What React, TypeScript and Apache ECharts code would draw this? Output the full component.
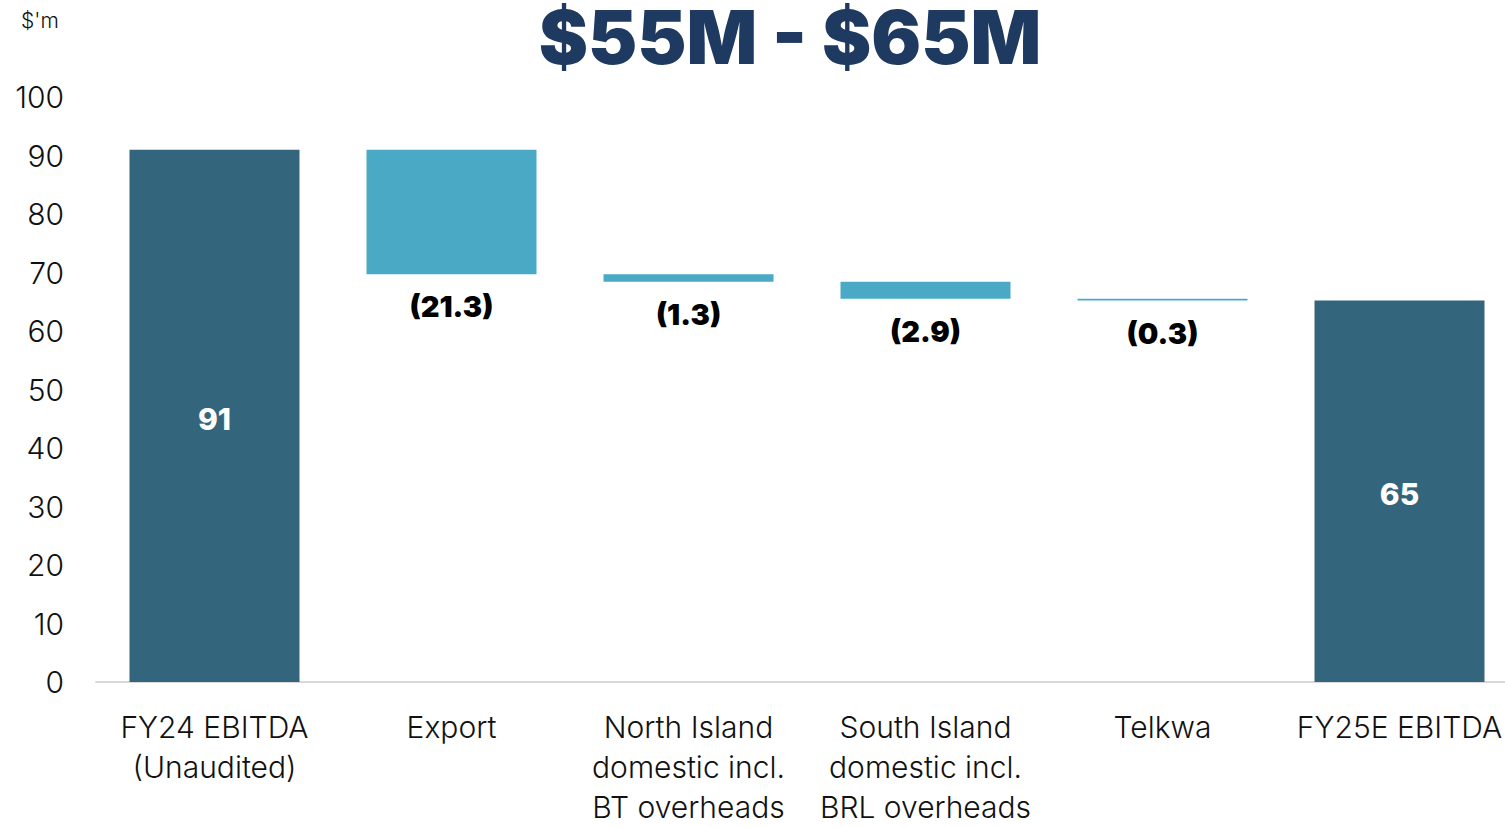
import React, { useEffect, useRef } from "react";
import * as echarts from "echarts";

const categories = [
  "FY24 EBITDA\n(Unaudited)",
  "Export",
  "North Island\ndomestic incl.\nBT overheads",
  "South Island\ndomestic incl.\nBRL overheads",
  "Telkwa",
  "FY25E EBITDA",
];
const startValue = 91;
const changes = [-21.3, -1.3, -2.9, -0.3];
const endLabel = 65;
const yTicks = { min: 0, max: 100, interval: 10 };
const titleText = "$55M - $65M";
const unitText = "$'m";

const DARK = "#33657d";
const LIGHT = "#4aaac6";

export default function App() {
  const ref = useRef<HTMLDivElement>(null);
  useEffect(() => {
    if (!ref.current) return;
    const chart = echarts.init(ref.current, undefined, { renderer: "svg" });

    const base: (number | string)[] = [];
    const totals: (number | string)[] = [];
    const deltas: (number | string)[] = [];
    let running = startValue;
    base.push("-");
    totals.push(startValue);
    deltas.push("-");
    changes.forEach((c) => {
      const next = +(running + c).toFixed(1);
      base.push(Math.min(running, next));
      deltas.push(Math.abs(c));
      totals.push("-");
      running = next;
    });
    base.push("-");
    totals.push(running);
    deltas.push("-");

    chart.setOption({
      animation: false,
      title: [
        {
          text: titleText,
          left: 785,
          textAlign: "center",
          top: -5,
          textStyle: {
            fontFamily: "Inter",
            fontWeight: 900,
            fontSize: 74,
            color: "#1f3a60",
          },
        },
        {
          text: unitText,
          left: 16,
          top: 5,
          textStyle: {
            fontFamily: "Inter",
            fontWeight: 300,
            fontSize: 21,
            color: "#111",
          },
        },
      ],
      grid: { left: 96, right: 0, top: 97, bottom: 141, containLabel: false },
      xAxis: {
        type: "category",
        data: categories,
        axisLine: { show: true, lineStyle: { color: "#d9d9d9", width: 2 } },
        axisTick: { show: false },
        axisLabel: {
          interval: 0,
          margin: 25,
          fontFamily: "Inter",
          fontWeight: 300,
          fontSize: 30,
          lineHeight: 40,
          color: "#111",
        },
      },
      yAxis: {
        type: "value",
        min: yTicks.min,
        max: yTicks.max,
        interval: yTicks.interval,
        axisLine: { show: false },
        axisTick: { show: false },
        splitLine: { show: false },
        axisLabel: {
          margin: 32,
          fontFamily: "Inter",
          fontWeight: 300,
          fontSize: 30,
          color: "#111",
        },
      },
      series: [
        {
          type: "bar",
          stack: "wf",
          data: base,
          barWidth: 170,
          itemStyle: { color: "transparent" },
          emphasis: { disabled: true },
          silent: true,
        },
        {
          type: "bar",
          stack: "wf",
          data: deltas,
          barWidth: 170,
          itemStyle: { color: LIGHT },
          label: {
            show: true,
            position: "bottom",
            distance: 18,
            fontFamily: "Inter",
            fontWeight: 900,
            fontSize: 29,
            color: "#000",
            formatter: (p: any) => `(${(+p.value).toFixed(1)})`,
          },
        },
        {
          type: "bar",
          stack: "wf",
          data: totals,
          barWidth: 170,
          itemStyle: { color: DARK },
          label: {
            show: true,
            position: "inside",
            offset: [0, 3],
            fontFamily: "Inter",
            fontWeight: 800,
            fontSize: 30,
            color: "#fff",
            formatter: (p: any) =>
              p.dataIndex === categories.length - 1 ? String(endLabel) : String(p.value),
          },
        },
      ],
    });
    return () => chart.dispose();
  }, []);
  return (
    <div style={{ position: "absolute", left: 0, top: 0, width: 1505, height: 827, overflow: "hidden" }}>
      <div ref={ref} style={{ width: 1518, height: 827, background: "#fff" }} />
    </div>
  );
}
